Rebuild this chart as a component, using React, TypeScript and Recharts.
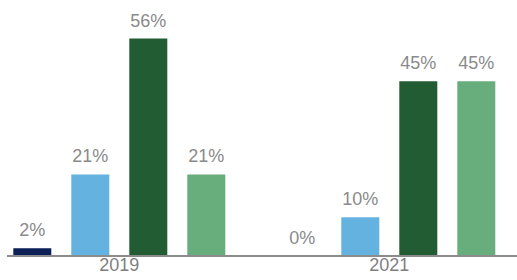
import React from "react";
import { BarChart, Bar, XAxis, YAxis, LabelList } from "recharts";

const categories = ["2019", "2021"];
const seriesA = [2, 0];
const seriesB = [21, 10];
const seriesC = [56, 45];
const seriesD = [21, 45];

const data = categories.map((c, i) => ({
  year: c,
  a: seriesA[i],
  b: seriesB[i],
  c: seriesC[i],
  d: seriesD[i],
}));

const colors = { a: "#0c1f56", b: "#64b2df", c: "#215c33", d: "#67ae7c" };
const keys: ("a" | "b" | "c" | "d")[] = ["a", "b", "c", "d"];

const fmt = (v: any) => `${v}%`;

export default function App() {
  return (
    <div style={{ position: "absolute", left: 0, top: 0, fontFamily: "'Liberation Sans', Arial, sans-serif" }}>
      <BarChart
        width={517}
        height={280}
        data={data}
        margin={{ top: 23, right: 0, bottom: 0, left: 7 }}
        barCategoryGap={29}
        barGap={20}
      >
        <XAxis
          dataKey="year"
          padding={{ left: -22.7, right: -7.3 }}
          axisLine={{ stroke: "#8c8c8c", strokeWidth: 2 }}
          tickLine={false}
          tickSize={0}
          tickMargin={2}
          height={24}
          tick={{ fill: "#7f7f7f", fontSize: 18 }}
        />
        <YAxis hide domain={[0, 60]} />
        {keys.map((k) => (
          <Bar key={k} dataKey={k} fill={colors[k]} isAnimationActive={false} minPointSize={0.1}>
            <LabelList dataKey={k} position="top" offset={12} formatter={fmt} fill="#8a8a8a" fontSize={18} />
          </Bar>
        ))}
      </BarChart>
    </div>
  );
}
